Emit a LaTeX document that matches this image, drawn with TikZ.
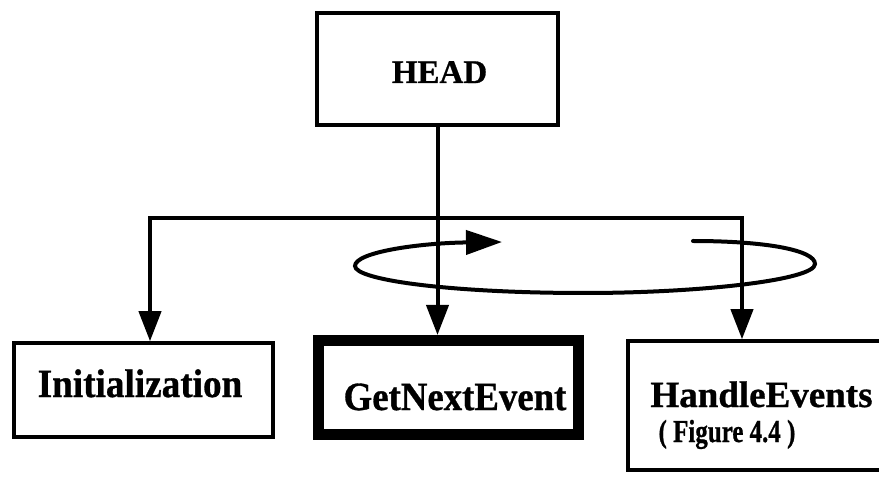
\documentclass[tikz,border=0pt]{standalone}
\usepackage{fontspec}
\setmainfont{Liberation Serif}
% heavy bold serif for the labels
\newfontfamily\heavy{Liberation Serif Bold}[FakeBold=0.8]
\usetikzlibrary{arrows.meta}
% narrow label text
\newcommand{\lbl}[2]{\scalebox{#1}[1]{#2}}
\begin{document}
\begin{tikzpicture}[x=1pt,y=-1pt,
  box/.style={draw,line width=3.5pt,inner sep=0pt},
  txt/.style={inner sep=0pt,anchor=base,font=\fontsize{#1}{#1}\selectfont\heavy},
  conn/.style={line width=4pt},
  tip/.style={-{Triangle[length=30pt,width=22pt]}}]
\useasboundingbox (0,0) rectangle (879,481);
% boxes
\node[box,minimum width=241pt,minimum height=112pt] (head) at (437.5,69) {};
\node[txt=33] (headt) at (439.5,83) {HEAD};
\node[box,minimum width=259pt,minimum height=94pt] (init) at (143.5,390) {};
\node[txt=40] (initt) at (140,397) {\lbl{0.93}{Initialization}};
\node[box,line width=11pt,minimum width=260pt,minimum height=94pt] (gne) at (448.5,387.5) {};
\node[txt=40] (gnet) at (455,410) {\lbl{0.92}{GetNextEvent}};
\node[box,minimum width=262pt,minimum height=129pt] (hand) at (759,405.5) {};
\node[txt=37] (handt) at (761.5,407) {HandleEvents};
\node[txt=32] (handf) at (727,442) {\lbl{0.78}{( Figure 4.4 )}};
% bus
\coordinate (bl) at (150,218);
\coordinate (br) at (742,218);
\draw[conn,tip] (head.south) -- (head.south |- gne.north);
\draw[conn,{Triangle[length=30pt,width=22pt]}-{Triangle[length=30pt,width=22pt]}]
  (bl |- init.north) |- (br) -- (br |- hand.north);
% loop
\draw[conn,line cap=round,-{Triangle[length=36pt,width=24pt]}]
  (693,241) .. controls (765,241) and (815,250) .. (815,264)
  .. controls (815,280) and (700,293) .. (585,293)
  .. controls (450,293) and (355,280) .. (355,266)
  .. controls (355,252) and (420,243) .. (502,242);
\end{tikzpicture}
\end{document}
